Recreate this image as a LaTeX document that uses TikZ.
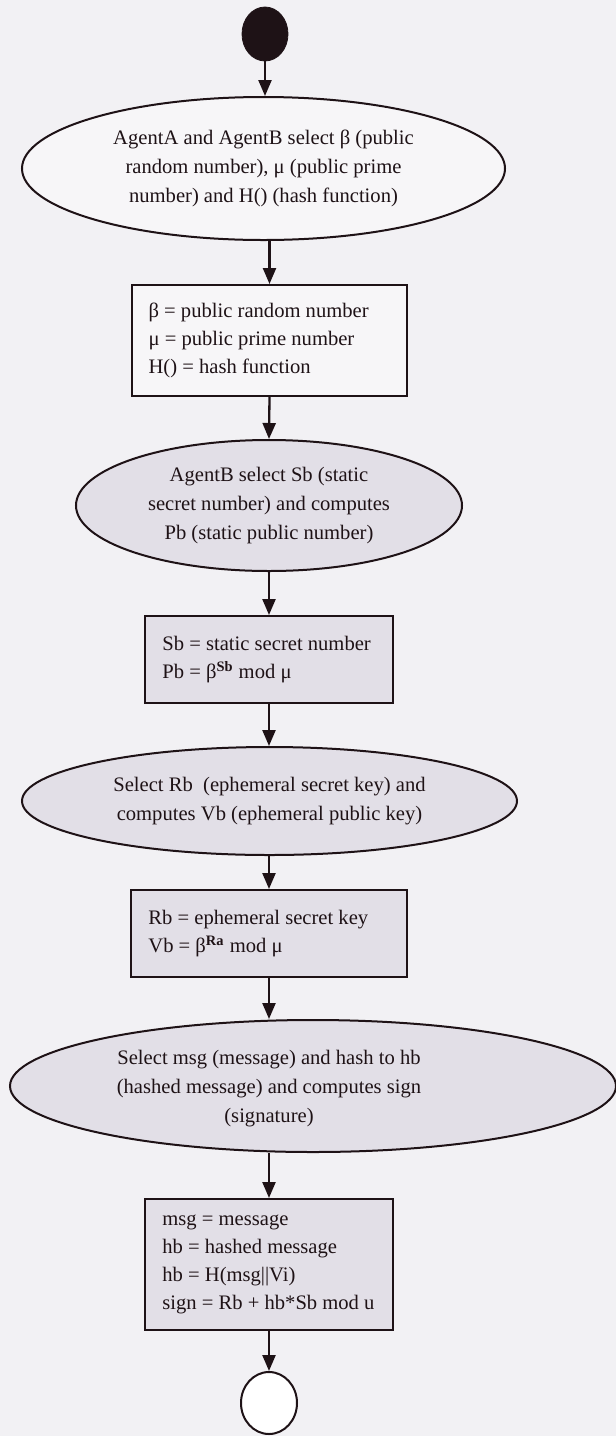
\documentclass[tikz,border=0pt]{standalone}
\usepackage{fontspec}
\setmainfont{Liberation Serif}
\usetikzlibrary{shapes.geometric,arrows.meta}
\definecolor{paper}{HTML}{F2F1F4}
\definecolor{plainfill}{HTML}{F7F6F8}
\definecolor{lavender}{HTML}{E2DFE7}
\definecolor{ink}{HTML}{1E1216}
\begin{document}
\begin{tikzpicture}[x=0.5pt,y=-0.5pt,
  every node/.style={inner sep=0pt, text=ink},
  flow/.style={draw=ink, line width=1pt},
  oval/.style={flow, ellipse, align=center, font=\fontsize{10.3}{14.5}\selectfont},
  stepbox/.style={flow, rectangle},
  boxtext/.style={anchor=west, align=left, font=\fontsize{10.3}{13.9}\selectfont},
  arr/.style={draw=ink, line width=1.15pt, -{Triangle[length=8pt,width=6.5pt]}},
]
% page
\fill[paper] (0,0) rectangle (616,1436);
\useasboundingbox (0,0) rectangle (616,1436);

% start / end markers
\node[ellipse, fill=ink, draw=ink, minimum width=23pt, minimum height=27pt] (start) at (265,34) {};
\node[ellipse, flow, fill=white, minimum width=28pt, minimum height=31pt] (finish) at (269,1403) {};

% step 1: shared parameters
\node[oval, fill=plainfill, minimum width=241.5pt, minimum height=71.5pt] (e1) at (263.5,168.5)
  {AgentA and AgentB select β (public\\random number), μ (public prime\\number) and H() (hash function)};
\node[stepbox, fill=plainfill, minimum width=137.5pt, minimum height=55.5pt] (b1) at (269.5,340.5) {};
\node[boxtext] (b1t) at ([xshift=8.6pt]b1.west)
  {β = public random number\\μ = public prime number\\H() = hash function};

% step 2: static key pair
\node[oval, fill=lavender, minimum width=193pt, minimum height=65.5pt] (e2) at (269,505.5)
  {AgentB select Sb (static\\secret number) and computes\\Pb (static public number)};
\node[stepbox, fill=lavender, minimum width=124pt, minimum height=43.5pt] (b2) at (269,659.5) {};
\node[boxtext] (b2t) at ([xshift=9pt]b2.west)
  {Sb = static secret number\\Pb = β\textsuperscript{\textbf{Sb}} mod μ};

% step 3: ephemeral key pair
\node[oval, fill=lavender, minimum width=247.5pt, minimum height=54pt] (e3) at (269.5,801)
  {Select Rb~ (ephemeral secret key) and\\computes Vb (ephemeral public key)};
\node[stepbox, fill=lavender, minimum width=138pt, minimum height=43.5pt] (b3) at (269,933.5) {};
\node[boxtext] (b3t) at ([xshift=9pt]b3.west)
  {Rb = ephemeral secret key\\Vb = β\textsuperscript{\textbf{Ra}} mod μ};

% step 4: signing
\node[ellipse, flow, fill=lavender, minimum width=303pt, minimum height=66pt] (e4) at (313,1086) {};
\node[align=center, font=\fontsize{10.3}{14.5}\selectfont] (e4t) at (269,1089)
  {Select msg (message) and hash to hb\\(hashed message) and computes sign\\(signature)};
\node[stepbox, fill=lavender, minimum width=124pt, minimum height=65.5pt] (b4) at (269,1264.5) {};
\node[boxtext] (b4t) at ([xshift=9pt]b4.west)
  {msg = message\\hb = hashed message\\hb = H(msg||Vi)\\sign = Rb + hb*Sb mod u};

% connectors
\draw[arr] (start.south) -- (start.south |- e1.north);
\draw[arr] (b1.north |- e1.south) -- (b1.north);
\draw[arr] (b1.south) -- (e2.north);
\draw[arr] (e2.south) -- (b2.north);
\draw[arr] (b2.south) -- (b2.south |- e3.north);
\draw[arr] (b3.north |- e3.south) -- (b3.north);
\draw[arr] (b3.south) -- (b3.south |- e4.north);
\draw[arr] (b4.north |- e4.south) -- (b4.north);
\draw[arr] (b4.south) -- (finish.north);
\end{tikzpicture}
\end{document}
